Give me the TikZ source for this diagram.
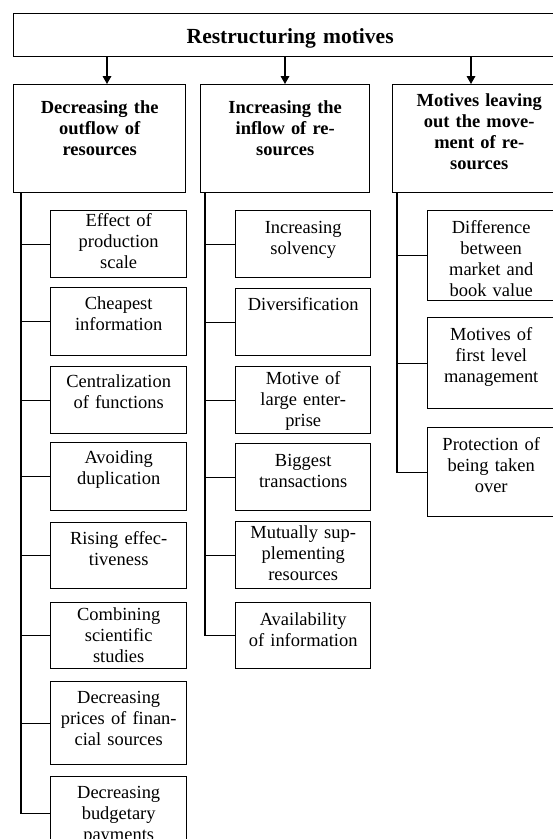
\documentclass[tikz,border=0pt]{standalone}
\usepackage{fontspec}
\setmainfont{Liberation Serif}
\usetikzlibrary{arrows.meta}
\tikzset{
  wire/.style={black,line width=0.9pt},
  flow/.style={-{Triangle[length=5.2pt,width=5.6pt]},line width=0.9pt},
  frame/.style={draw=black,line width=0.9pt,inner sep=0pt,align=center,anchor=north west},
  boxsize/.style args={#1/#2}{text height=#2*0.65pt,text depth=(#1-#2)*0.65pt},
  headline/.style={frame,font=\bfseries\fontsize{14}{16}\selectfont},
  group/.style={frame,font=\bfseries\fontsize{12}{13.7}\selectfont},
  motive/.style={frame,font=\fontsize{12}{13.7}\selectfont},
}
\begin{document}
\begin{tikzpicture}[x=0.65pt,y=-0.65pt]
  \path[use as bounding box] (0,0) rectangle (552,839);
  \node[headline,boxsize=43/30,text width=359.45pt] (title) at (13,13)
    {Restructuring motives};

  \node[group,boxsize=108/29,text width=111.8pt] (h1) at (13,84)
    {Decreasing the\\outflow of\\resources};
  \node[group,boxsize=108/29,text width=109.85pt] (h2) at (200,84)
    {Increasing the\\inflow of re-\\sources};
  \node[group,boxsize=108/22,text width=112.45pt] (h3) at (392,84)
    {Motives leaving\\out the move-\\ment of re-\\sources};

  \foreach \xx/\hd in {107/h1,285/h2,471/h3}
    \draw[flow] (title.south -| \xx,0) -- (\hd.north -| \xx,0);

  % first column
  \foreach \nm/\yy/\hh/\off/\txt in {
    a1/210/67/16/{Effect of\\production\\scale},
    a2/287/68/22/{Cheapest\\information},
    a3/366/67/21/{Centralization\\of functions},
    a4/442/68/21/{Avoiding\\duplication},
    a5/522/66/22/{Rising effec-\\tiveness},
    a6/602/66/18/{Combining\\scientific\\studies},
    a7/681/83/22/{Decreasing\\prices of finan-\\cial sources},
    a8/776/74/22/{Decreasing\\budgetary\\payments}
  }{
    \node[motive,boxsize=\hh/\off,text width=88.4pt] (\nm) at (50,\yy) {\txt};
  }
  % second column
  \foreach \nm/\yy/\hh/\off/\txt in {
    b1/210/67/23/{Increasing\\solvency},
    b2/288/67/22/{Diversification},
    b3/366/67/18/{Motive of\\large enter-\\prise},
    b4/443/67/23/{Biggest\\transactions},
    b5/521/67/17/{Mutually sup-\\plementing\\resources},
    b6/602/66/23/{Availability\\of information}
  }{
    \node[motive,boxsize=\hh/\off,text width=87.75pt] (\nm) at (235,\yy) {\txt};
  }
  % third column
  \foreach \nm/\yy/\hh/\off/\txt in {
    c1/210/90/23/{Difference\\between\\market and\\book value},
    c2/317/91/23/{Motives of\\first level\\management},
    c3/427/89/23/{Protection of\\being taken\\over}
  }{
    \node[motive,boxsize=\hh/\off,text width=82.55pt] (\nm) at (427,\yy) {\txt};
  }

  \coordinate (t1) at ([xshift=5.2pt]h1.south west);
  \coordinate (t2) at ([xshift=3.25pt]h2.south west);
  \coordinate (t3) at ([xshift=3.25pt]h3.south west);
  \draw[wire] (t1) |- (a8.west);
  \draw[wire] (t2) |- (b6.west);
  \draw[wire] (t3) |- (c3.west);
  \foreach \i in {1,...,7} \draw[wire] (t1 |- a\i.west) -- (a\i.west);
  \foreach \i in {1,...,5} \draw[wire] (t2 |- b\i.west) -- (b\i.west);
  \foreach \i in {1,2} \draw[wire] (t3 |- c\i.west) -- (c\i.west);
\end{tikzpicture}
\end{document}
